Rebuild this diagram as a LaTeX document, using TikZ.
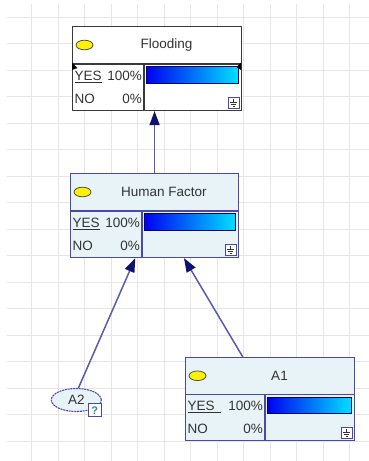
\documentclass[tikz,border=0pt]{standalone}
\usepackage{fontspec}
\setmainfont{Liberation Sans}
\usetikzlibrary{arrows.meta,calc,shapes.geometric}
\definecolor{gridc}{HTML}{E6E6E6}
\definecolor{flborder}{HTML}{3A3A3A}
\definecolor{bborder}{HTML}{4A4AA6}
\definecolor{bfill}{HTML}{E7F3F7}
\definecolor{txtc}{HTML}{333333}
\definecolor{barl}{HTML}{0000F0}
\definecolor{barr}{HTML}{00E0FF}
\definecolor{edgec}{HTML}{5A5AB0}
\definecolor{tipc}{HTML}{10106E}
\definecolor{qc}{HTML}{1E8C9A}
\newcommand\yeslabel{\underline{YES}}
\newcommand\bnnode[9]{%
  \node[box#9, anchor=north west, minimum width={#4-#2}, minimum height={#5-#3}] (#1) at (#2,#3) {};
  \draw[line#9] (#2,#6) -- (#4,#6);
  \draw[line#9] (#7,#6) -- (#7,#5);
  \pgfmathsetmacro\ey{(#3+#6)/2}
  \fill[yellow, draw=black!70, line width=0.8pt] (#2+12.5,\ey) ellipse [x radius=8.5pt, y radius=4.8pt];
  \node[titletext] at ({(#2+20+#4)/2},\ey) {#8};
  \shade[left color=barl, right color=barr, draw=blue!40!black, line width=0.4pt] (#7+2,#6+2.5) rectangle (#4-2.5,#6+19);
  \node[rowtext, anchor=base west] at (#2+2.5,#6+16.3) {\yeslabel};
  \node[rowtext, anchor=base east] at (#7-2,#6+16.3) {100\%};
  \node[rowtext, anchor=base west] at (#2+2.5,#6+39) {NO};
  \node[rowtext, anchor=base east] at (#7-2,#6+39) {0\%};
  \pgfmathsetmacro\cx{#4-7.25}
  \pgfmathsetmacro\cy{#5-7.25}
  \draw[iconst] (#4-13,#5-13) rectangle (#4-1.5,#5-1.5);
  \draw[iconsym] (\cx-3.5,\cy-0.5) -- (\cx+3.5,\cy-0.5);
  \draw[iconsym] (\cx,\cy-4) -- (\cx,\cy-0.5);
  \draw[iconsym] (\cx-2.5,\cy+1.8) -- (\cx+2.5,\cy+1.8);
  \draw[iconsym] (\cx-1.2,\cy+3.6) -- (\cx+1.2,\cy+3.6);
}
\begin{document}
\begin{tikzpicture}[x=1pt,y=-1pt,
  boxW/.style={draw=flborder, fill=white, line width=1.1pt, inner sep=0pt},
  boxB/.style={draw=bborder, fill=bfill, line width=1.1pt, inner sep=0pt},
  lineW/.style={draw=flborder, line width=1.1pt},
  lineB/.style={draw=bborder, line width=1.1pt},
  titletext/.style={text=txtc, font=\fontsize{13.5}{15}\selectfont, inner sep=0pt},
  rowtext/.style={text=txtc, font=\fontsize{13.5}{15}\selectfont, inner sep=0pt},
  iconst/.style={draw=bborder, fill=white, line width=0.8pt},
  iconsym/.style={draw=txtc, line width=0.6pt},
  edge/.style={draw=edgec, line width=1.5pt, -{Triangle[length=14pt,width=10pt,fill=tipc,color=tipc]}},
  gridline/.style={draw=gridc, line width=0.9pt}]
\useasboundingbox (0,0) rectangle (369,461);
\fill[white] (0,0) rectangle (369,461);
\foreach \i in {1,...,13} \draw[gridline] ({5+26.5*\i},4) -- ({5+26.5*\i},461);
\foreach \j in {0,...,16} \draw[gridline] (7,{17+26.5*\j}) -- (369,{17+26.5*\j});

\bnnode{fl}{72}{26}{241}{110}{64}{144}{Flooding}{W}
\fill[black] (72,62.5) -- (77.5,68) -- (72,70) -- cycle;
\fill[black] (241,62.5) -- (236.5,67) -- (241,70) -- cycle;
\bnnode{hf}{70}{173}{238}{257}{211}{142}{Human Factor}{B}
\renewcommand\yeslabel{\underline{YES\ \,}}
\bnnode{a1}{185}{357}{354}{440}{394.5}{265}{A1}{B}

\node[ellipse, draw=bborder, dashed, dash pattern=on 2pt off 0.8pt, fill=bfill, line width=1.1pt,
      minimum width=50pt, minimum height=23pt, inner sep=0pt, text=txtc,
      font=\fontsize{13.5}{15}\selectfont] (a2) at (76.3,400) {A2};
\node[draw=bborder, fill=white, line width=1.1pt, minimum size=13pt, inner sep=0pt,
      text=qc, font=\bfseries\fontsize{11}{12}\selectfont] (a2q) at (94.7,410.3) {?};

\coordinate (hfa2) at ($(hf.south west)!0.386!(hf.south east)$);
\coordinate (hfa1) at ($(hf.south west)!0.674!(hf.south east)$);
\coordinate (a1top) at ($(a1.north west)!0.34!(a1.north east)$);
\draw[edge] (hf.north) -- (hf.north |- fl.south);
\draw[edge] (a2.80) -- (hfa2);
\draw[edge] (a1top) -- (hfa1);
\end{tikzpicture}
\end{document}
